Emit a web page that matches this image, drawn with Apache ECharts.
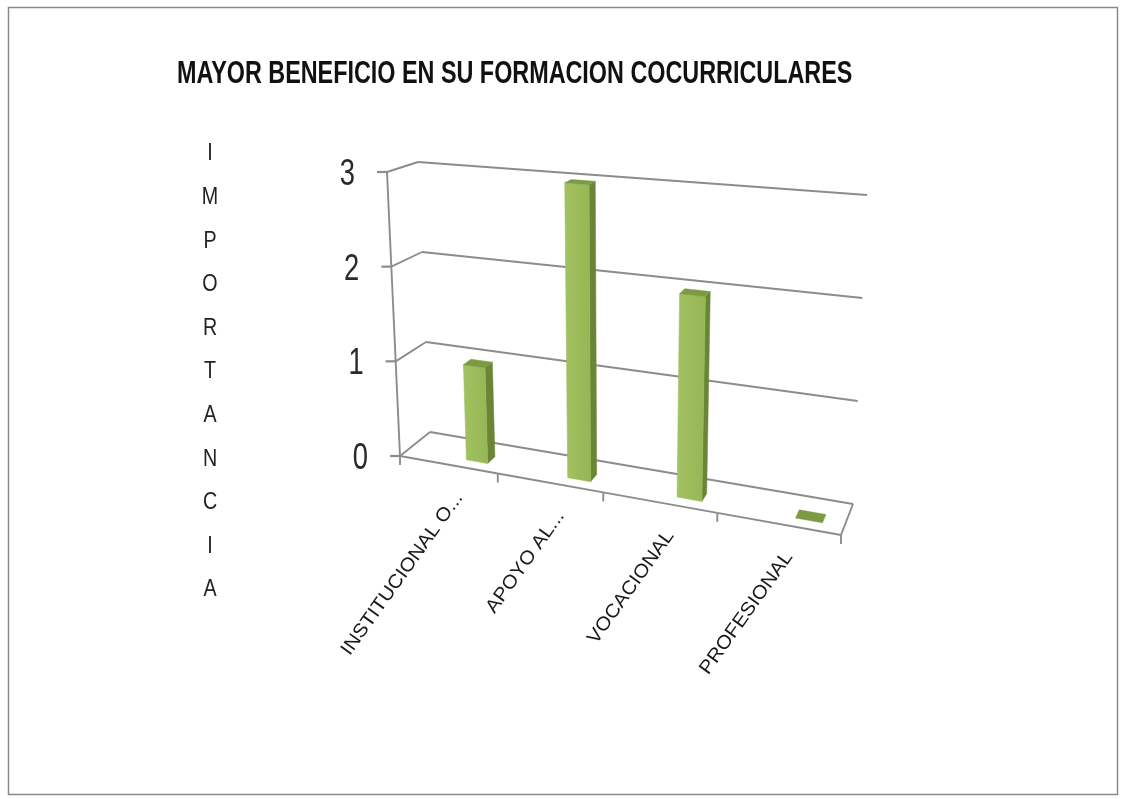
<!DOCTYPE html>
<html>
<head>
<meta charset="utf-8">
<script src="https://cdn.jsdelivr.net/npm/echarts@6/dist/echarts.min.js"></script>
<style>
  html, body { margin: 0; padding: 0; background: #fff; }
  #main { width: 1123px; height: 799px; }
</style>
</head>
<body>
<div id="main"></div>
<script>
// datos
var titulo = 'MAYOR BENEFICIO EN SU FORMACION COCURRICULARES';
var categorias = ['INSTITUCIONAL O...', 'APOYO AL...', 'VOCACIONAL', 'PROFESIONAL'];
var valores = [1, 3, 2, 0];
var ticksValor = [0, 1, 2, 3];
var nombreEje = 'IMPORTANCIA';

// perspectiva tipo Excel 3D: plano frontal y pared de fondo
var FRENTE = { p00: [400, 456], p10: [841, 535], p01: [387, 172], p11: [855, 210] };
var FONDO  = { p00: [430, 432], p10: [853, 504], p01: [418, 162], p11: [867, 195] };
var LINEA = '#8c8c8c';
var FUENTE = '"Liberation Sans", Arial, sans-serif';

function lerp(a, b, k) { return [a[0] + (b[0] - a[0]) * k, a[1] + (b[1] - a[1]) * k]; }
function quad(q, u, t) { return lerp(lerp(q.p00, q.p01, t), lerp(q.p10, q.p11, t), u); }
function escorzo(s) { var a = 0.855; return s * a / (1 + (a - 1) * s); }
function proj(s, t, d) {
    var u = escorzo(s);
    return lerp(quad(FRENTE, u, t), quad(FONDO, u, t), d);
}
// posicion normalizada dentro del grid a partir de la escala de echarts
function norm(params, api, x, y) {
    var cs = params.coordSys;
    var p = api.coord([x, y]);
    return [(p[0] - cs.x) / cs.width, (cs.y + cs.height - p[1]) / cs.height];
}
function linea(a, b, w) {
    return { type: 'line', shape: { x1: a[0], y1: a[1], x2: b[0], y2: b[1] },
             style: { stroke: LINEA, lineWidth: w || 1.9 }, silent: true };
}
function poli(pts, color) {
    return { type: 'polygon', shape: { points: pts }, style: { fill: color, stroke: color, lineWidth: 0.5 } };
}

var chart = echarts.init(document.getElementById('main'), null, { renderer: 'canvas' });

var option = {
    backgroundColor: '#ffffff',
    animation: false,
    graphic: [
        {
            type: 'rect', silent: true,
            shape: { x: 8.5, y: 7.5, width: 1109, height: 787 },
            style: { fill: 'none', stroke: '#8a8a8a', lineWidth: 1.5 }
        },
        {
            // titulo (fuente condensada con scaleX)
            type: 'text', silent: true, x: 177, y: 74, scaleX: 0.73,
            style: {
                text: titulo, font: 'bold 32px ' + FUENTE, fill: '#111',
                align: 'left', verticalAlign: 'middle'
            }
        },
        {
            type: 'text', silent: true, x: 210, y: 132, scaleX: 0.82,
            style: {
                text: nombreEje.split('').join('\n'),
                font: '24px ' + FUENTE, fill: '#222',
                align: 'center', verticalAlign: 'top', lineHeight: 43.6
            }
        }
    ],
    grid: { left: 400, top: 172, width: 441, height: 284 },
    xAxis: { type: 'category', data: categorias, show: false },
    yAxis: { type: 'value', min: 0, max: 3, interval: 1, show: false },
    series: [
        {
            // paredes, lineas de division y etiquetas del eje de valores
            type: 'custom',
            z: 1,
            data: ticksValor.map(function (v) { return [0, v]; }),
            renderItem: function (params, api) {
                var t = norm(params, api, 0, api.value(1))[1];
                var a = proj(0, t, 0), b = proj(0, t, 1), c = proj(1, t, 1);
                return {
                    type: 'group',
                    children: [
                        linea(b, c),
                        linea(a, b),
                        linea([a[0] - 10, a[1]], a, 2.2),
                        { type: 'text', x: a[0] - 32, y: a[1] + 3, scaleX: 0.76, silent: true,
                          style: { text: String(api.value(1)), font: '36px ' + FUENTE, fill: '#2a2a2a',
                                   align: 'right', verticalAlign: 'middle' } }
                    ]
                };
            }
        },
        {
            // piso frontal, marcas y etiquetas de categorias
            type: 'custom',
            z: 1,
            data: categorias.map(function (c, i) { return [i, 0]; }),
            renderItem: function (params, api) {
                var i = api.value(0);
                var cs = params.coordSys;
                var banda = api.size([1, 0])[0] / cs.width;
                var sc = norm(params, api, i, 0)[0];
                var s0 = sc - banda / 2, s1 = sc + banda / 2;
                var f0 = proj(s0, 0, 0), f1 = proj(s1, 0, 0);
                var m = proj(sc, 0, 0);
                var hijos = [
                    linea(f0, f1),
                    linea(f0, [f0[0], f0[1] + 9]),
                    {
                        type: 'group', x: m[0] + 11, y: m[1] + 30, rotation: 0.95, silent: true,
                        children: [{
                            type: 'text', x: 0, y: 0, scaleX: 1.08, silent: true,
                            style: { text: categorias[i], font: '19px ' + FUENTE, fill: '#1a1a1a',
                                     align: 'right', verticalAlign: 'middle' }
                        }]
                    }
                ];
                if (i === 0) hijos.push(linea(proj(0, 0, 0), proj(0, 1, 0)));
                if (i === categorias.length - 1) {
                    hijos.push(linea(f1, [f1[0], f1[1] + 9]));
                    hijos.push(linea(f1, proj(1, 0, 1)));
                }
                return { type: 'group', children: hijos };
            }
        },
        {
            // columnas 3D
            type: 'custom',
            z: 2,
            data: valores.map(function (v, i) { return [i, v]; }),
            renderItem: function (params, api) {
                var i = api.value(0);
                var cs = params.coordSys;
                var banda = api.size([1, 0])[0] / cs.width;
                var sc = norm(params, api, i, 0)[0] + banda * 0.22;
                var t = norm(params, api, i, api.value(1))[1];
                var s0 = sc - banda * 0.108, s1 = sc + banda * 0.108;
                var d0 = 0.27, d1 = 0.54;
                var hijos = [];
                if (t > 0) {
                    hijos.push(poli([proj(s1, 0, d0), proj(s1, 0, d1), proj(s1, t, d1), proj(s1, t, d0)], '#6a8536'));
                    hijos.push({
                        type: 'polygon',
                        shape: { points: [proj(s0, 0, d0), proj(s1, 0, d0), proj(s1, t, d0), proj(s0, t, d0)] },
                        style: {
                            fill: new echarts.graphic.LinearGradient(0, 0, 1, 0, [
                                { offset: 0, color: '#a2c263' },
                                { offset: 1, color: '#96b655' }
                            ]),
                            stroke: '#9bbb59', lineWidth: 0.5
                        }
                    });
                }
                hijos.push(poli([proj(s0, t, d0), proj(s1, t, d0), proj(s1, t, d1), proj(s0, t, d1)], '#7b9a42'));
                return { type: 'group', children: hijos };
            }
        }
    ]
};

chart.setOption(option);
</script>
</body>
</html>
